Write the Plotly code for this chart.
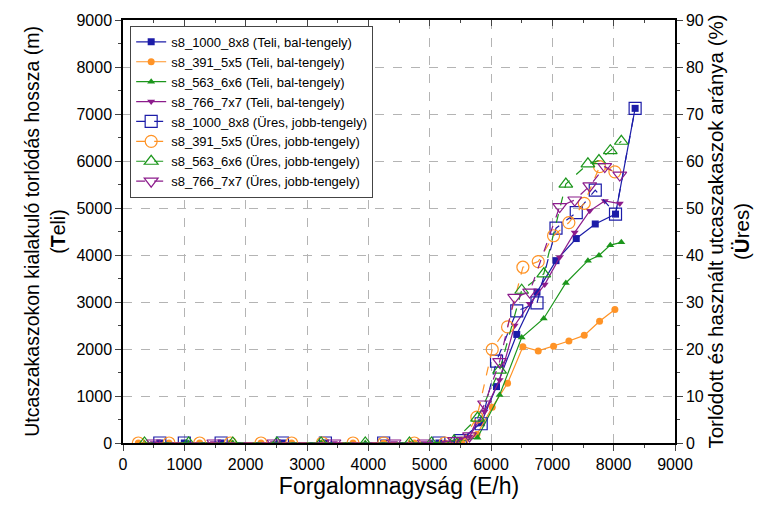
import plotly.graph_objects as go

# ---------------- data ----------------
blue_x = [600, 1000, 1600, 2600, 3300, 4250, 5150, 5500, 5840, 6090, 6420, 6750, 7060, 7390, 7700, 8030, 8350]
blue_teli = [0, 0, 0, 0, 0, 0, 0, 60, 430, 1200, 2310, 3210, 3880, 4350, 4660, 4870, 7120]
blue_ures = [0, 0, 0, 0, 0, 0, 0, 0.5, 4.1, 17.4, 28.1, 29.8, 45.7, 49.0, 53.8, 48.7, 71.2]

orange_x = [250, 750, 1250, 1750, 2250, 2750, 3250, 3750, 4250, 4750, 5250, 5520,
            5770, 6020, 6270, 6520, 6770, 7020, 7270, 7520, 7770, 8020]
orange_teli = [0, 0, 0, 0, 0, 0, 0, 0, 0, 0, 0, 0,
               180, 760, 1270, 2050, 1960, 2060, 2170, 2290, 2590, 2840]
orange_ures = [0, 0, 0, 0, 0, 0, 0, 0, 0, 0, 0, 0,
               5.5, 19.9, 24.7, 37.4, 38.6, 44.1, 46.9, 51.0, 58.8, 57.7]

green_x = [350, 1070, 1790, 2510, 3230, 3950, 4670, 5030, 5400, 5780, 6140, 6500,
           6860, 7220, 7580, 7760, 7945, 8125]
green_teli = [0, 0, 0, 0, 0, 0, 0, 0, 20, 110, 1020, 2245, 2650, 3405, 3880, 3990, 4210, 4270]
green_ures = [0, 0, 0, 0, 0, 0, 0, 0, 0.5, 5.3, 15.5, 32.5, 36.0, 55.1, 59.4, 60.1, 62.2, 64.2]

purple_x = [500, 1480, 2460, 3440, 4420, 4910, 5405, 5650, 5895, 6140, 6385, 6630,
            6875, 7120, 7365, 7610, 7855, 8100]
purple_teli = [0, 0, 0, 0, 0, 0, 30, 140, 670, 1340, 2500, 2965, 3370, 3950, 4480, 4940, 5150, 5095]
purple_ures = [0, 0, 0, 0, 0, 0, 0.5, 1.5, 8.3, 17.3, 31.0, 32.1, None, 50.3, 51.7, 54.7, 58.8, 57.0]

x_ticks = [0, 1000, 2000, 3000, 4000, 5000, 6000, 7000, 8000, 9000]

series = [
    ("s8_1000_8x8", blue_x, blue_teli, blue_ures, "#1c1ca8", "square"),
    ("s8_391_5x5", orange_x, orange_teli, orange_ures, "#ff9326", "circle"),
    ("s8_563_6x6", green_x, green_teli, green_ures, "#1c961c", "triangle-up"),
    ("s8_766_7x7", purple_x, purple_teli, purple_ures, "#8c1c8c", "triangle-down"),
]

fig = go.Figure()

for name, xs, teli, ures, col, sym in series:
    fig.add_trace(go.Scatter(
        x=xs, y=teli, mode="lines+markers",
        name=f"{name} (Teli, bal-tengely)",
        line=dict(color=col, width=1.2),
        marker=dict(symbol=sym, size=7, color=col),
        yaxis="y",
    ))

for name, xs, teli, ures, col, sym in series:
    fig.add_trace(go.Scatter(
        x=xs, y=ures, mode="lines+markers",
        name=f"{name} (Üres, jobb-tengely)",
        line=dict(color=col, width=1.2, dash="dash"),
        marker=dict(symbol=sym + "-open", size=12, color=col, line=dict(width=1.2, color=col)),
        connectgaps=True,
        yaxis="y2",
    ))

# dummy trace to activate the top mirror axis
fig.add_trace(go.Scatter(x=[None], y=[None], xaxis="x2", yaxis="y", showlegend=False, hoverinfo="skip"))

font_family = "Liberation Sans, Arial, sans-serif"

fig.update_layout(
    width=763, height=509,
    margin=dict(l=123, r=88, t=18, b=66),
    paper_bgcolor="white", plot_bgcolor="white",
    font=dict(family=font_family, size=16, color="black"),
    showlegend=True,
    legend=dict(
        x=0.013, y=0.986, xanchor="left", yanchor="top",
        bgcolor="white", bordercolor="#444", borderwidth=1,
        font=dict(size=13, family=font_family),
        tracegroupgap=0, itemwidth=30,
    ),
    xaxis=dict(
        range=[0, 9000], tickvals=x_ticks, ticks="outside", ticklen=6, tickwidth=1.2,
        minor=dict(ticks="outside", ticklen=3, dtick=500, tick0=0, showgrid=False),
        showline=True, linecolor="black", linewidth=1.5,
        showgrid=True, gridcolor="#b4b4b4", griddash="dash", gridwidth=1,
        zeroline=False,
        title=dict(text="Forgalomnagyság (E/h)", font=dict(size=23), standoff=6),
        tickfont=dict(size=16),
    ),
    xaxis2=dict(
        range=[0, 9000], overlaying="x", side="top", anchor="y",
        tickvals=x_ticks, ticks="inside", ticklen=6, tickwidth=1.2,
        minor=dict(ticks="inside", ticklen=3, dtick=500, tick0=0, showgrid=False),
        showticklabels=False, showline=True, linecolor="black", linewidth=1.5,
        showgrid=False, zeroline=False,
    ),
    yaxis=dict(
        range=[0, 9000], dtick=1000, ticks="outside", ticklen=6, tickwidth=1.2,
        minor=dict(ticks="outside", ticklen=3, dtick=500, tick0=0, showgrid=False),
        showline=True, linecolor="black", linewidth=1.5,
        showgrid=True, gridcolor="#b4b4b4", griddash="dash", gridwidth=1,
        zeroline=False,
        title=dict(text="Utcaszakaszokon kialakuló torlódás hossza (m)<br>(<b>T</b>eli)",
                   font=dict(size=19.5), standoff=6),
        tickfont=dict(size=16),
    ),
    yaxis2=dict(
        range=[0, 90], dtick=10, overlaying="y", side="right", anchor="x",
        ticks="outside", ticklen=6, tickwidth=1.2,
        minor=dict(ticks="outside", ticklen=3, dtick=5, tick0=0, showgrid=False),
        showline=True, linecolor="black", linewidth=1.5,
        showgrid=False, zeroline=False,
        title=dict(text="Torlódott és használt utcaszakaszok aránya (%)<br>(<b>Ü</b>res)",
                   font=dict(size=20.5), standoff=4),
        tickfont=dict(size=16),
    ),
)

fig.write_html("out.html")
